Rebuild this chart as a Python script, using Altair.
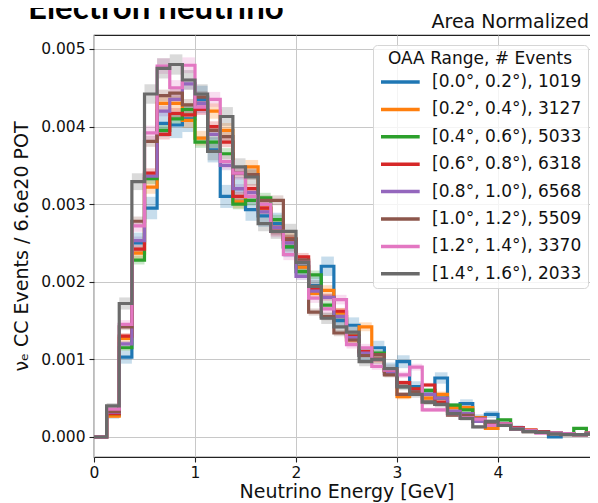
import altair as alt
import pandas as pd
import numpy as np

# ---------------- data (units of 1e-3) ----------------
labels = [
    "[0.0°, 0.2°), 1019",
    "[0.2°, 0.4°), 3127",
    "[0.4°, 0.6°), 5033",
    "[0.6°, 0.8°), 6318",
    "[0.8°, 1.0°), 6568",
    "[1.0°, 1.2°), 5509",
    "[1.2°, 1.4°), 3370",
    "[1.4°, 1.6°), 2033",
]
n_events = [1019, 3127, 5033, 6318, 6568, 5509, 3370, 2033]
colors = ["#1f77b4", "#ff7f0e", "#2ca02c", "#d62728",
          "#9467bd", "#8c564b", "#e377c2", "#6a6a6a"]

bin_width = 0.125  # GeV

blue = [0, 0.28, 1.03, 2.50, 2.95, 4.04, 4.02, 4.10, 4.35, 3.70,
        3.10, 3.20, 2.93, 2.85, 2.75, 2.45, 2.20, 1.95, 2.20, 1.50,
        1.44, 1.05, 1.15, 0.88, 0.97, 0.65, 0.55, 0.76, 0.38, 0.43,
        0.25, 0.29, 0.17, 0.12, 0.08, 0.06, 0.00, 0.04, 0.03, 0.05]
orange = [0, 0.27, 1.27, 2.37, 3.22, 4.30, 4.30, 4.08, 3.85, 4.20,
          3.95, 3.03, 3.48, 2.95, 2.70, 2.55, 2.19, 1.85, 1.89, 1.60,
          1.25, 1.42, 1.00, 0.85, 0.52, 0.60, 0.50, 0.55, 0.38, 0.38,
          0.25, 0.11, 0.16, 0.12, 0.09, 0.07, 0.05, 0.04, 0.03, 0.05]
green = [0, 0.30, 1.15, 2.28, 3.33, 3.95, 4.10, 4.22, 3.80, 3.80,
         3.65, 3.00, 3.05, 3.08, 2.80, 2.45, 2.13, 2.09, 1.70, 1.55,
         1.30, 1.10, 1.08, 0.85, 0.65, 0.62, 0.60, 0.50, 0.41, 0.35,
         0.20, 0.18, 0.22, 0.11, 0.08, 0.07, 0.05, 0.04, 0.11, 0.04]
red = [0, 0.30, 1.30, 2.42, 3.40, 3.90, 4.17, 4.15, 4.22, 4.00,
       3.80, 3.10, 3.20, 2.95, 2.65, 2.55, 2.32, 1.90, 1.80, 1.62,
       1.30, 1.10, 1.00, 0.85, 0.70, 0.62, 0.67, 0.45, 0.33, 0.30,
       0.22, 0.18, 0.17, 0.12, 0.09, 0.07, 0.05, 0.04, 0.03, 0.05]
purple = [0, 0.32, 1.20, 2.53, 3.36, 4.20, 4.35, 4.55, 4.30, 3.90,
          3.50, 3.20, 3.15, 2.90, 2.70, 2.50, 2.07, 1.88, 1.80, 1.55,
          1.28, 1.08, 1.00, 0.82, 0.65, 0.58, 0.55, 0.50, 0.33, 0.30,
          0.20, 0.18, 0.16, 0.11, 0.08, 0.06, 0.05, 0.04, 0.03, 0.04]
brown = [0, 0.33, 1.42, 2.78, 3.81, 4.40, 4.43, 4.28, 4.38, 3.95,
         3.87, 3.40, 3.38, 3.05, 3.05, 2.55, 2.28, 1.61, 1.55, 1.34,
         1.25, 1.05, 1.06, 0.80, 0.55, 0.58, 0.45, 0.42, 0.28, 0.28,
         0.24, 0.18, 0.15, 0.10, 0.07, 0.06, 0.04, 0.03, 0.03, 0.04]
pink = [0, 0.36, 1.45, 2.72, 3.92, 4.78, 4.50, 4.79, 4.25, 4.35,
        3.55, 3.40, 3.10, 3.00, 2.65, 2.35, 2.25, 1.79, 1.65, 1.77,
        1.19, 1.15, 0.91, 0.86, 0.80, 0.90, 0.35, 0.35, 0.30, 0.25,
        0.23, 0.15, 0.17, 0.10, 0.08, 0.05, 0.05, 0.04, 0.03, 0.05]
grey = [0, 0.40, 1.72, 3.29, 4.42, 4.75, 4.80, 4.60, 4.42, 3.68,
        4.13, 3.48, 3.35, 2.75, 2.65, 2.65, 2.25, 1.94, 1.53, 1.42,
        1.35, 0.97, 1.00, 0.88, 0.65, 0.55, 0.45, 0.42, 0.30, 0.24,
        0.13, 0.20, 0.15, 0.10, 0.07, 0.06, 0.04, 0.03, 0.03, 0.04]

series_values = [blue, orange, green, red, purple, brown, pink, grey]

x_ticks = [0, 1, 2, 3, 4, 5]
y_ticks = [0.0, 0.001, 0.002, 0.003, 0.004, 0.005]

# ---------------- tables ----------------
line_rows, band_rows = [], []
for lab, n, vals in zip(labels, n_events, series_values):
    for i, v in enumerate(vals):
        val = v * 1e-3
        lo = i * bin_width
        line_rows.append({"series": lab, "E": lo, "v": val})
        err = 0.085 * np.sqrt(val / n)  # statistical band, scales with 1/sqrt(N)
        band_rows.append({"band": lab, "E": lo, "E2": lo + bin_width,
                          "lo": val - err, "hi": val + err})
    line_rows.append({"series": lab, "E": len(vals) * bin_width, "v": vals[-1] * 1e-3})

line_df = pd.DataFrame(line_rows)
band_df = pd.DataFrame(band_rows)

FONT = "DejaVu Sans"

xscale = alt.Scale(domain=[0, 5], nice=False, zero=False)
yscale = alt.Scale(domain=[-0.000258, 0.00518], nice=False, zero=False)

bands = alt.Chart(band_df).mark_rect(opacity=0.25, clip=True).encode(
    x=alt.X("E:Q", scale=xscale),
    x2="E2:Q",
    y=alt.Y("lo:Q", scale=yscale),
    y2="hi:Q",
    fill=alt.Fill("band:N", scale=alt.Scale(range=colors), sort="ascending", legend=None),
)

lines = alt.Chart(line_df).mark_line(interpolate="step-after", strokeWidth=3.2, clip=True).encode(
    x=alt.X("E:Q", scale=xscale,
            axis=alt.Axis(title="Neutrino Energy [GeV]", values=x_ticks, format="d")),
    y=alt.Y("v:Q", scale=yscale,
            axis=alt.Axis(title="νₑ CC Events / 6.6e20 POT", values=y_ticks, format=".3f")),
    stroke=alt.Stroke(
        "series:N",
        scale=alt.Scale(domain=labels, range=colors),
        legend=alt.Legend(
            title="OAA Range, # Events",
            orient="none", legendX=279, legendY=10,
            symbolType="M-1,0H3.3", symbolSize=324, symbolStrokeWidth=3.5, symbolOpacity=1,
            labelFont=FONT, labelFontSize=17, labelColor="#111111", labelLimit=300,
            titleFont=FONT, titleFontSize=17, titleFontWeight="normal", titleColor="#111111",
            titleAnchor="middle", titlePadding=3, titleLimit=400,
            fillColor="rgba(255,255,255,0.8)", strokeColor="#d6d6d6", cornerRadius=4,
            padding=6, rowPadding=8.4, labelOffset=31,
        ),
    ),
    detail="series:N",
)

title_df = pd.DataFrame({"t": ["Electron neutrino"]})
title_txt = alt.Chart(title_df).mark_text(
    font="Lato", fontSize=33, fontWeight="bold", align="left", baseline="alphabetic", color="black"
).encode(text="t:N", x=alt.value(-66), y=alt.value(-16))

norm_df = pd.DataFrame({"t": ["Area Normalized"]})
norm_txt = alt.Chart(norm_df).mark_text(
    font=FONT, fontSize=19, align="right", baseline="middle", color="#111111"
).encode(text="t:N", x=alt.value(495), y=alt.value(-13))

chart = alt.layer(bands, lines, title_txt, norm_txt).properties(
    width=505, height=422,
    padding={"left": 86, "top": 27, "right": -9, "bottom": 47},
    autosize=alt.AutoSizeParams(type="none"),
).configure_view(
    stroke="#222222", strokeWidth=1.2
).configure_axis(
    labelFont=FONT, labelFontSize=15.5, labelColor="#111111",
    titleFont=FONT, titleFontSize=19, titleFontWeight="normal", titleColor="#111111",
    grid=True, gridColor="#c8c8c8", gridWidth=1,
    domain=False, tickColor="#222222", tickSize=5, tickWidth=1.1,
    labelPadding=4, labelFlush=False, labelOverlap=False,
).configure_axisX(
    labelPadding=3, titlePadding=2
).configure_axisY(
    titlePadding=9
)

chart.save("out.html", embed_options={"renderer": "svg", "actions": False})
